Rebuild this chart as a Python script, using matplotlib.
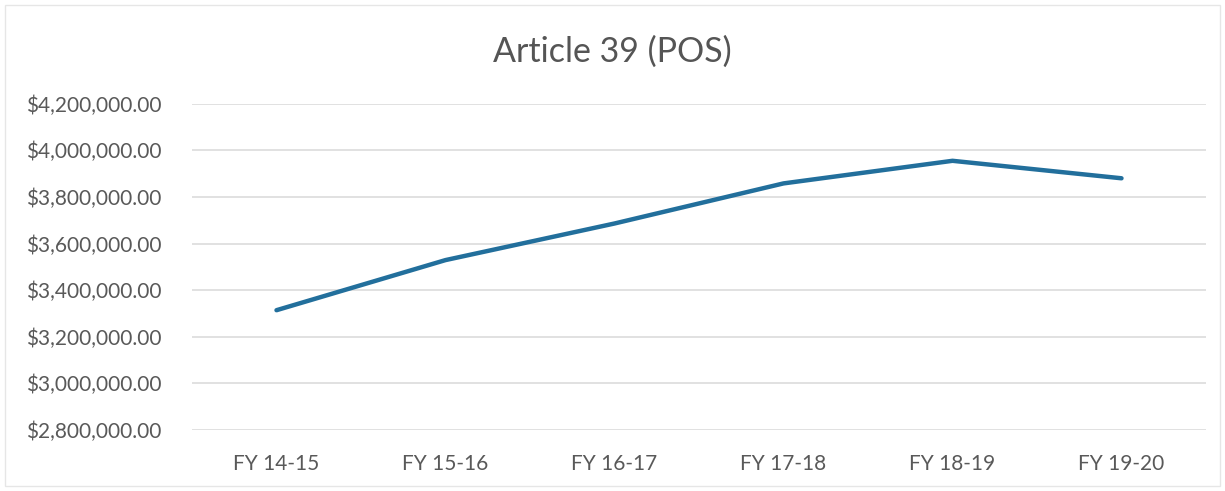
#!/usr/bin/env python3
# -*- coding: utf-8 -*-

import matplotlib
matplotlib.use('Agg')
import matplotlib.pyplot as plt
from matplotlib.ticker import FuncFormatter, MultipleLocator
from matplotlib.patches import Rectangle

# data
years = ['FY 14-15', 'FY 15-16', 'FY 16-17', 'FY 17-18', 'FY 18-19', 'FY 19-20']
amounts = [3314000, 3529000, 3686000, 3858000, 3955000, 3880000]
title = 'Article 39 (POS)'

LINE_COL = '#226f9c'
TEXT_COL = '#595959'
GRID_COL = '#d9d9d9'


def money(v, pos):
    return '${:,.2f}'.format(v)


def main():
    plt.rcParams['font.family'] = ['Lato', 'DejaVu Sans']

    fig = plt.figure(figsize=(12.25, 4.91), dpi=100)
    ax = fig.add_axes([192 / 1225, 1 - 430 / 491, (1206 - 192) / 1225, (430 - 103.7) / 491])

    x = list(range(len(years)))
    ax.plot(x, amounts, color=LINE_COL, lw=3.2, solid_capstyle='round', solid_joinstyle='round')

    ax.set_xlim(-0.5, len(years) - 0.5)
    ax.set_ylim(2800000, 4200000)
    ax.yaxis.set_major_locator(MultipleLocator(200000))
    ax.yaxis.set_major_formatter(FuncFormatter(money))
    ax.set_xticks(x)
    ax.set_xticklabels(years)

    ax.grid(axis='y', color=GRID_COL, lw=1.1)
    ax.set_axisbelow(True)
    for s in ax.spines.values():
        s.set_visible(False)
    ax.tick_params(axis='y', length=0, pad=22, labelsize=15, labelcolor=TEXT_COL)
    ax.tick_params(axis='x', length=0, pad=17, labelsize=15, labelcolor=TEXT_COL)

    fig.text(0.5, 1 - 52 / 491, title, ha='center', va='center',
             fontsize=24.5, color='#555555', fontweight='normal')

    # faint chart-area border
    fig.patches.append(Rectangle((0.004, 0.01), 0.992, 0.98, transform=fig.transFigure,
                                 fill=False, edgecolor='#e6e6e6', lw=1.0))

    fig.savefig('out.png', dpi=100, facecolor='white')


if __name__ == '__main__':
    main()
